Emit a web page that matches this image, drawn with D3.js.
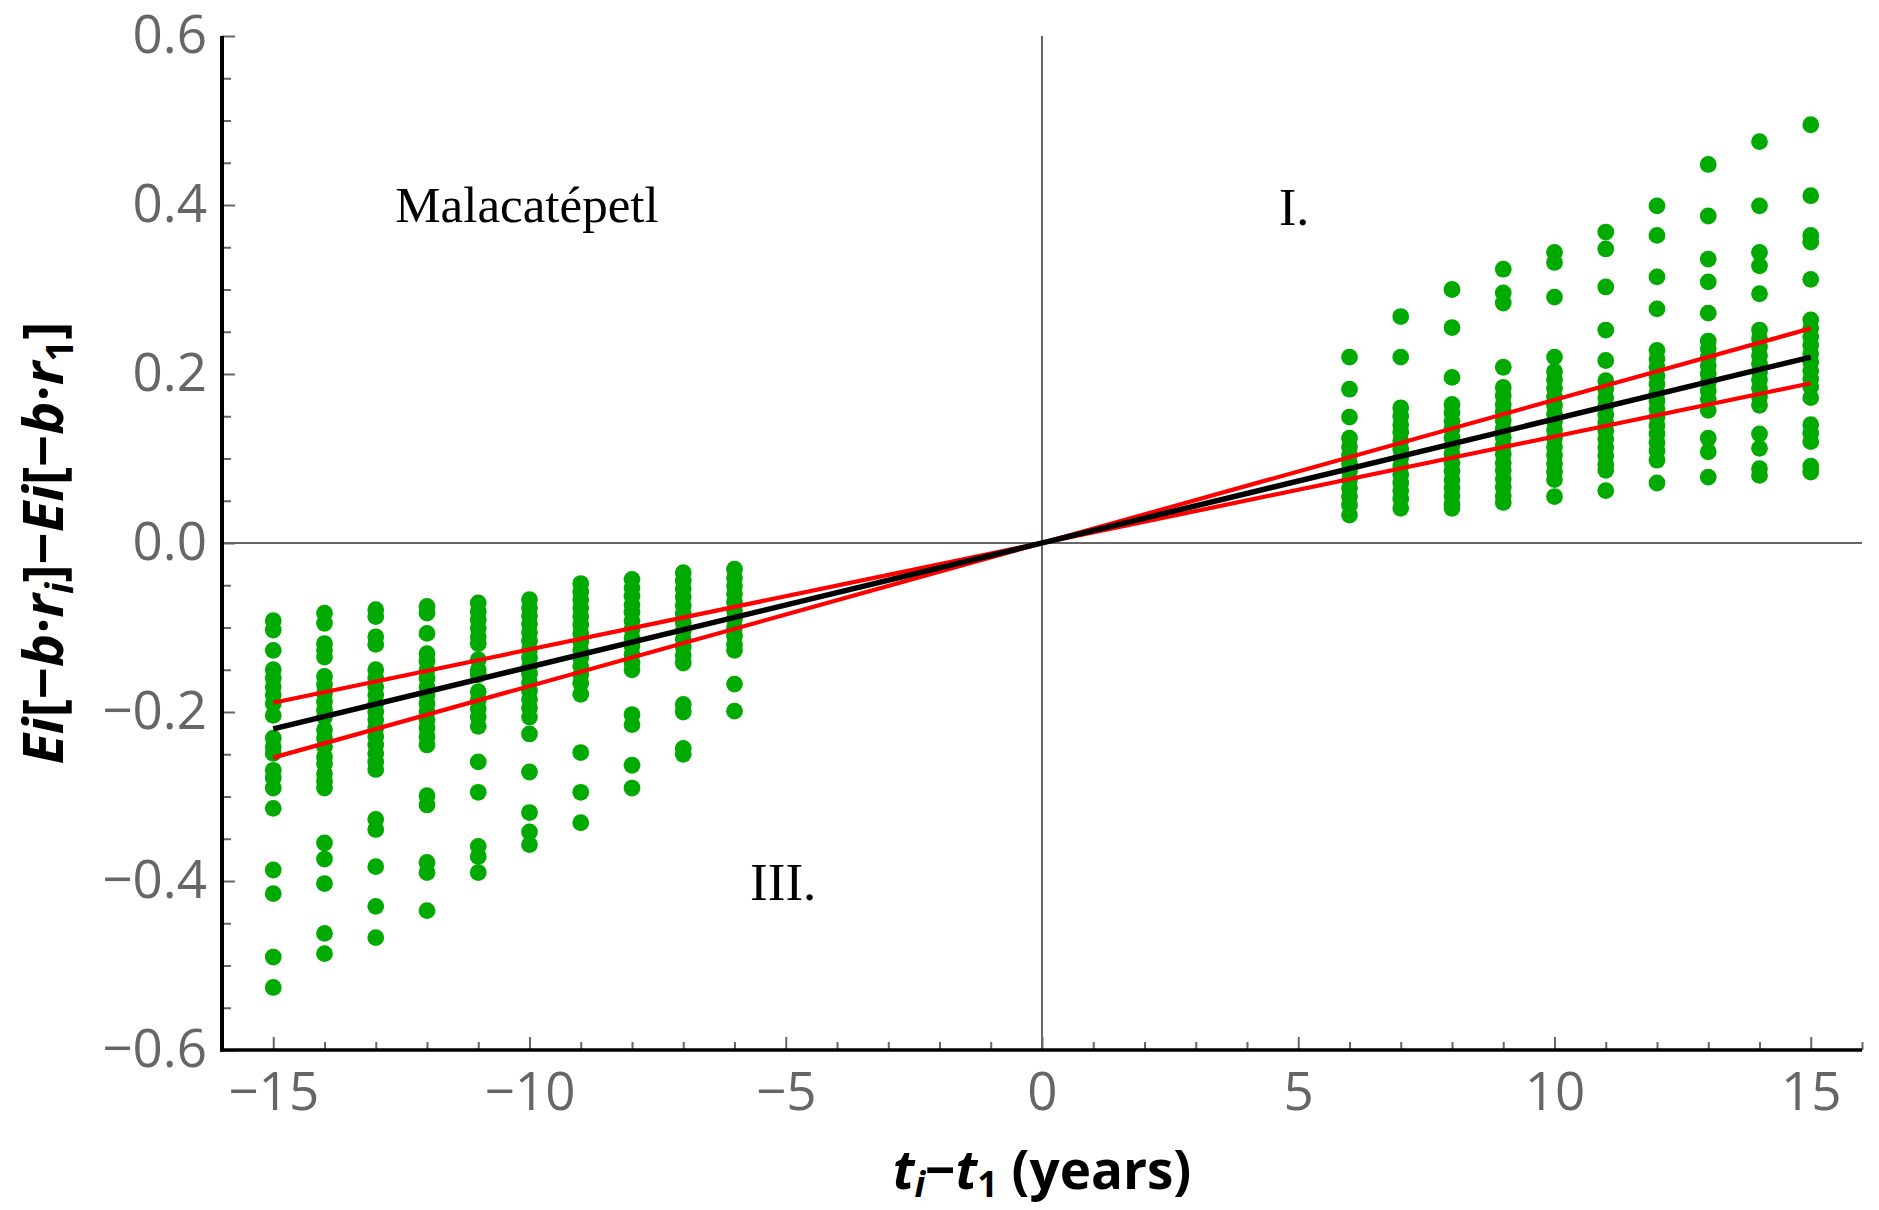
<!DOCTYPE html>
<html>
<head>
<meta charset="utf-8">
<script src="https://cdn.jsdelivr.net/npm/d3@7"></script>
<style>
  html, body { margin: 0; padding: 0; background: #fff; }
  svg { display: block; }
</style>
</head>
<body>
<svg id="chart" width="1879" height="1210"></svg>
<script>
// Sample years relative to t1 (one column of points each)
const yearsBefore = [-15, -14, -13, -12, -11, -10, -9, -8, -7, -6];
const yearsAfter  = [6, 7, 8, 9, 10, 11, 12, 13, 14, 15];

// Ei[-b r_i] - Ei[-b r_1] for each sampled b, by year
const ptsM15 = [-0.092, -0.103, -0.127, -0.150, -0.160, -0.170, -0.180, -0.190, -0.204, -0.231, -0.241, -0.249, -0.269, -0.278, -0.290, -0.314, -0.387, -0.415, -0.490, -0.526];
const ptsM14 = [-0.083, -0.095, -0.119, -0.127, -0.135, -0.158, -0.168, -0.178, -0.188, -0.198, -0.206, -0.221, -0.231, -0.241, -0.253, -0.261, -0.273, -0.282, -0.290, -0.355, -0.374, -0.403, -0.462, -0.486];
const ptsM13 = [-0.079, -0.087, -0.111, -0.120, -0.150, -0.160, -0.170, -0.180, -0.190, -0.200, -0.209, -0.219, -0.229, -0.239, -0.249, -0.259, -0.268, -0.327, -0.339, -0.383, -0.430, -0.467];
const ptsM12 = [-0.075, -0.083, -0.107, -0.131, -0.140, -0.150, -0.160, -0.170, -0.180, -0.190, -0.200, -0.209, -0.219, -0.229, -0.239, -0.299, -0.310, -0.378, -0.390, -0.435];
const ptsM11 = [-0.071, -0.081, -0.091, -0.101, -0.111, -0.119, -0.138, -0.150, -0.156, -0.176, -0.186, -0.196, -0.206, -0.217, -0.259, -0.295, -0.359, -0.371, -0.390];
const ptsM10 = [-0.067, -0.077, -0.086, -0.096, -0.106, -0.116, -0.126, -0.136, -0.146, -0.155, -0.165, -0.175, -0.185, -0.195, -0.206, -0.226, -0.271, -0.319, -0.342, -0.357];
const ptsM9  = [-0.048, -0.058, -0.067, -0.077, -0.087, -0.097, -0.107, -0.117, -0.127, -0.136, -0.146, -0.156, -0.166, -0.179, -0.248, -0.295, -0.331];
const ptsM8  = [-0.043, -0.053, -0.063, -0.073, -0.082, -0.092, -0.102, -0.112, -0.122, -0.132, -0.142, -0.150, -0.203, -0.215, -0.263, -0.290];
const ptsM7  = [-0.035, -0.045, -0.054, -0.064, -0.074, -0.084, -0.094, -0.104, -0.114, -0.123, -0.133, -0.142, -0.191, -0.200, -0.243, -0.250];
const ptsM6  = [-0.031, -0.041, -0.051, -0.060, -0.070, -0.080, -0.090, -0.100, -0.110, -0.120, -0.127, -0.167, -0.199];

const ptsP6  = [0.220, 0.182, 0.149, 0.124, 0.114, 0.104, 0.094, 0.085, 0.075, 0.065, 0.055, 0.045, 0.033];
const ptsP7  = [0.268, 0.220, 0.160, 0.150, 0.140, 0.131, 0.121, 0.111, 0.101, 0.091, 0.081, 0.071, 0.062, 0.052, 0.041];
const ptsP8  = [0.300, 0.255, 0.196, 0.164, 0.154, 0.144, 0.135, 0.125, 0.115, 0.105, 0.095, 0.085, 0.075, 0.065, 0.056, 0.046, 0.041];
const ptsP9  = [0.324, 0.296, 0.284, 0.208, 0.184, 0.174, 0.164, 0.155, 0.145, 0.135, 0.125, 0.115, 0.105, 0.095, 0.086, 0.076, 0.066, 0.056, 0.048];
const ptsP10 = [0.344, 0.332, 0.291, 0.220, 0.203, 0.193, 0.183, 0.173, 0.163, 0.153, 0.144, 0.134, 0.124, 0.114, 0.104, 0.094, 0.084, 0.075, 0.055];
const ptsP11 = [0.368, 0.348, 0.303, 0.252, 0.216, 0.192, 0.182, 0.172, 0.162, 0.152, 0.142, 0.133, 0.123, 0.113, 0.103, 0.093, 0.086, 0.062];
const ptsP12 = [0.399, 0.364, 0.315, 0.277, 0.228, 0.218, 0.208, 0.198, 0.188, 0.178, 0.168, 0.159, 0.149, 0.139, 0.129, 0.119, 0.109, 0.098, 0.071];
const ptsP13 = [0.448, 0.387, 0.336, 0.309, 0.272, 0.239, 0.230, 0.220, 0.210, 0.200, 0.190, 0.180, 0.170, 0.157, 0.124, 0.108, 0.078];
const ptsP14 = [0.475, 0.399, 0.344, 0.328, 0.295, 0.252, 0.242, 0.232, 0.222, 0.212, 0.202, 0.193, 0.183, 0.173, 0.163, 0.129, 0.112, 0.088, 0.080];
const ptsP15 = [0.495, 0.411, 0.364, 0.356, 0.312, 0.264, 0.254, 0.244, 0.234, 0.224, 0.214, 0.204, 0.194, 0.185, 0.172, 0.140, 0.130, 0.120, 0.091, 0.084];

// Fitted line and its two bounds, evaluated at the end years
const lineYears = [-15, 15];
const fitValues = [-0.220, 0.220];
const boundSteep = [-0.254, 0.254];
const boundShallow = [-0.189, 0.189];

// Axis ticks
const xMajorTicks = [-15, -10, -5, 0, 5, 10, 15];
const xTickLabels = ["\u221215", "\u221210", "\u22125", "0", "5", "10", "15"];
const yMajorTicks = [-0.6, -0.4, -0.2, 0.0, 0.2, 0.4, 0.6];
const yTickLabels = ["\u22120.6", "\u22120.4", "\u22120.2", "0.0", "0.2", "0.4", "0.6"];

const columnsBefore = [ptsM15, ptsM14, ptsM13, ptsM12, ptsM11, ptsM10, ptsM9, ptsM8, ptsM7, ptsM6];
const columnsAfter  = [ptsP6, ptsP7, ptsP8, ptsP9, ptsP10, ptsP11, ptsP12, ptsP13, ptsP14, ptsP15];

const points = [];
yearsBefore.forEach((yr, i) => columnsBefore[i].forEach(v => points.push([yr, v])));
yearsAfter.forEach((yr, i) => columnsAfter[i].forEach(v => points.push([yr, v])));

const svg = d3.select("#chart");
const W = 1879, H = 1210;
svg.append("rect").attr("width", W).attr("height", H).attr("fill", "#fff");

const x = d3.scaleLinear().domain([-16, 16]).range([222, 1862]);
const y = d3.scaleLinear().domain([-0.6, 0.6]).range([1050, 36]);

const tickGray = "#666666";
const labelFont = "'Open Sans', 'Noto Sans', sans-serif";

// Zero reference lines
svg.append("line")
  .attr("x1", x(-16)).attr("x2", x(16)).attr("y1", y(0)).attr("y2", y(0))
  .attr("stroke", tickGray).attr("stroke-width", 2);
svg.append("line")
  .attr("x1", x(0)).attr("x2", x(0)).attr("y1", y(0.6)).attr("y2", y(-0.6))
  .attr("stroke", tickGray).attr("stroke-width", 2);

// Minor ticks
const xMinor = d3.range(-16, 17).filter(v => v % 5 !== 0);
const yMinor = d3.range(-12, 13).map(k => k * 0.05).filter((v, i) => (i % 4) !== 0);

svg.append("g").attr("transform", `translate(0,${y(-0.6)})`)
  .call(d3.axisBottom(x).tickValues(xMinor).tickSize(-8).tickFormat(""))
  .call(g => g.select(".domain").remove())
  .call(g => g.selectAll("line").attr("stroke", tickGray).attr("stroke-width", 2));

svg.append("g").attr("transform", `translate(${x(-16)},0)`)
  .call(d3.axisLeft(y).tickValues(yMinor).tickSize(-9).tickFormat(""))
  .call(g => g.select(".domain").remove())
  .call(g => g.selectAll("line").attr("stroke", tickGray).attr("stroke-width", 2));

// Major ticks with labels
svg.append("g").attr("transform", `translate(0,${y(-0.6)})`)
  .call(d3.axisBottom(x).tickValues(xMajorTicks).tickSize(-13).tickPadding(22)
    .tickFormat((d, i) => xTickLabels[i]))
  .call(g => g.select(".domain").remove())
  .call(g => g.selectAll("line").attr("stroke", tickGray).attr("stroke-width", 2))
  .call(g => g.selectAll("text").attr("fill", tickGray)
    .style("font-family", labelFont).style("font-size", "53px"));

svg.append("g").attr("transform", `translate(${x(-16)},0)`)
  .call(d3.axisLeft(y).tickValues(yMajorTicks).tickSize(-13).tickPadding(15)
    .tickFormat((d, i) => yTickLabels[i]))
  .call(g => g.select(".domain").remove())
  .call(g => g.selectAll("line").attr("stroke", tickGray).attr("stroke-width", 2))
  .call(g => g.selectAll("text").attr("fill", tickGray)
    .style("font-family", labelFont).style("font-size", "53px"));

// Axis lines
svg.append("line")
  .attr("x1", x(-16)).attr("x2", x(-16)).attr("y1", y(0.6)).attr("y2", y(-0.6) + 1.5)
  .attr("stroke", "#000").attr("stroke-width", 4);
svg.append("line")
  .attr("x1", x(-16) - 2).attr("x2", x(16)).attr("y1", y(-0.6)).attr("y2", y(-0.6))
  .attr("stroke", "#000").attr("stroke-width", 3.5);

// Sample points
svg.append("g").selectAll("circle").data(points).join("circle")
  .attr("cx", d => x(d[0])).attr("cy", d => y(d[1])).attr("r", 8.4)
  .attr("fill", "#00aa00");

// Fit and bounds
const line = d3.line().x(d => x(d[0])).y(d => y(d[1]));
const toPairs = vals => lineYears.map((yr, i) => [yr, vals[i]]);
[boundSteep, boundShallow].forEach(vals => {
  svg.append("path").attr("d", line(toPairs(vals)))
    .attr("fill", "none").attr("stroke", "#ff0000").attr("stroke-width", 4.2);
});
svg.append("path").attr("d", line(toPairs(fitValues)))
  .attr("fill", "none").attr("stroke", "#000").attr("stroke-width", 5.5);

// Annotations
const serif = "'Liberation Serif', 'Times New Roman', serif";
[["Malacat\u00e9petl", -10.05, 0.380, 51], ["I.", 4.92, 0.376, 52], ["III.", -5.05, -0.4225, 53]]
  .forEach(([t, xv, yv, fs]) => {
    svg.append("text").attr("x", x(xv)).attr("y", y(yv))
      .attr("text-anchor", "middle").attr("fill", "#000")
      .style("font-family", serif).style("font-size", fs + "px").text(t);
  });

// Axis titles
const titleFont = "'Open Sans', 'Noto Sans', sans-serif";
const xt = svg.append("text").attr("x", x(0)).attr("y", 1189)
  .attr("text-anchor", "middle").attr("fill", "#000")
  .style("font-family", titleFont).style("font-size", "53px").style("font-weight", 700);
xt.append("tspan").style("font-style", "italic").text("t");
xt.append("tspan").style("font-style", "italic").style("font-size", "36px").attr("dy", 8).text("i");
xt.append("tspan").attr("dy", -8).text("\u2212");
xt.append("tspan").style("font-style", "italic").text("t");
xt.append("tspan").style("font-size", "36px").attr("dy", 8).text("1");
xt.append("tspan").attr("dy", -8).text(" (years)");

const yt = svg.append("text")
  .attr("transform", `translate(63,${y(0)}) rotate(-90)`)
  .attr("text-anchor", "middle").attr("fill", "#000")
  .style("font-family", titleFont).style("font-size", "56px").style("font-weight", 700);
const seg = (txt, italic) => {
  const s = yt.append("tspan").text(txt);
  if (italic) s.style("font-style", "italic");
  return s;
};
seg("Ei", true); seg("[\u2212", false); seg("b", true); seg("\u00b7", false); seg("r", true);
yt.append("tspan").style("font-style", "italic").style("font-size", "38px").attr("dy", 10).text("i");
yt.append("tspan").attr("dy", -10).text("]\u2212");
seg("Ei", true); seg("[\u2212", false); seg("b", true); seg("\u00b7", false); seg("r", true);
yt.append("tspan").style("font-size", "38px").attr("dy", 10).text("1");
yt.append("tspan").attr("dy", -10).text("]");
</script>
</body>
</html>
